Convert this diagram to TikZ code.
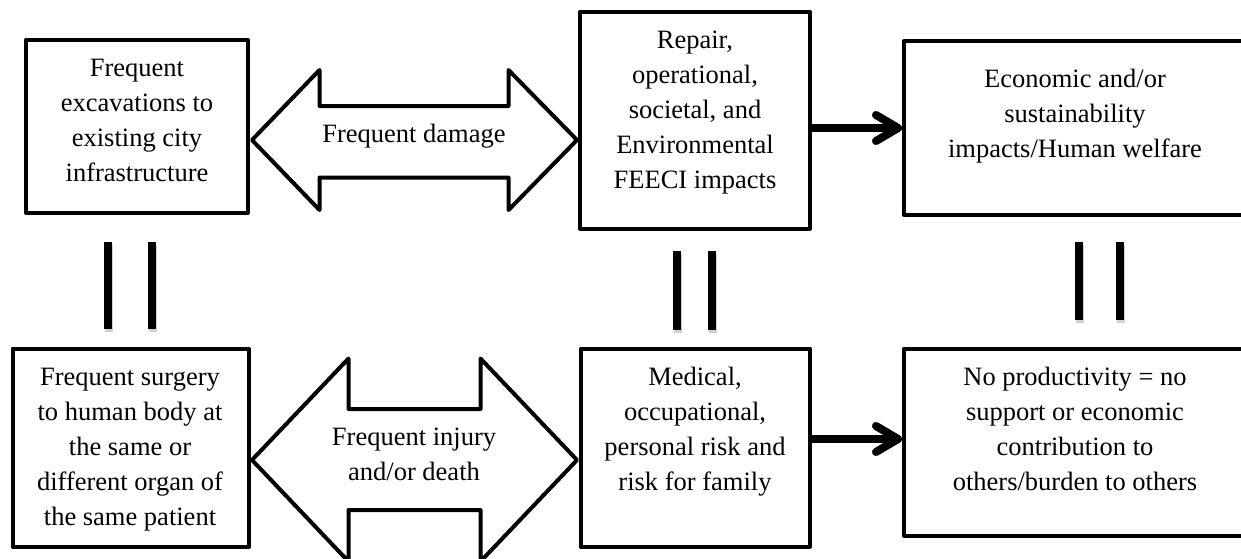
\documentclass[tikz,border=0pt]{standalone}
\usepackage{fontspec}
\setmainfont{Liberation Serif}
\usetikzlibrary{arrows.meta,calc}
\begin{document}
\begin{tikzpicture}[x=1pt,y=-1pt,
  box/.style={draw,line width=4pt,rectangle,inner sep=0pt,line join=round},
  txt/.style={inner sep=0pt,align=center,anchor=base,font=\fontsize{26.5pt}{35pt}\selectfont},
  dbl/.style={draw,line width=4pt,line join=round,fill=white},
  eqbar/.style={line width=8pt},
  shad/.style={draw=black!18,shift={(1pt,-3pt)}},
  conn/.style={line width=8pt,-{Straight Barb[length=22pt,width=26pt,round]}}]
\useasboundingbox (0,0) rectangle (1241,558);
\clip (0,0) rectangle (1241,558);
% boxes
\node[box,minimum width=221.5pt,minimum height=173pt] (tl) at (136.75,126) {};
\node[box,minimum width=230pt,minimum height=217pt] (tm) at (695,120) {};
\node[box,minimum width=346pt,minimum height=174pt] (tr) at (1077,128) {};
\node[box,minimum width=236pt,minimum height=198pt] (bl) at (130.5,447.5) {};
\node[box,minimum width=229.5pt,minimum height=198pt] (bm) at (695.25,447.5) {};
\node[box,minimum width=346pt,minimum height=187pt] (br) at (1077,442) {};
% texts (anchor = baseline of last line)
\node[txt] (tlt) at (137,181.5) {Frequent\\excavations to\\existing city\\infrastructure};
\node[txt] (tmt) at (695,188) {Repair,\\operational,\\societal, and\\Environmental\\FEECI impacts};
\node[txt] (trt) at (1075,157) {Economic and/or\\sustainability\\impacts/Human welfare};
\node[txt] (blt) at (130,525.5) {Frequent surgery\\to human body at\\the same or\\different organ of\\the same patient};
\node[txt] (bmt) at (695,490) {Medical,\\occupational,\\personal risk and\\risk for family};
\node[txt] (brt) at (1075,490) {No productivity = no\\support or economic\\contribution to\\others/burden to others};
% double arrows
\draw[dbl] (252,140) -- (319.5,70) -- (319.5,106) -- (508.5,106) -- (508.5,70) -- (577,140)
  -- (508.5,210) -- (508.5,177.5) -- (319.5,177.5) -- (319.5,210) -- cycle;
\node[txt] (dmg) at (414,142) {Frequent damage};
\draw[dbl] (252,460) -- (348.5,358.5) -- (348.5,409) -- (480.5,409) -- (480.5,358.5) -- (577,460)
  -- (480.5,561.5) -- (480.5,510) -- (348.5,510) -- (348.5,561.5) -- cycle;
\node[txt] (inj) at (414,480) {Frequent injury\\and/or death};
% equals bars (with faint shadow)
\foreach \x/\a/\b in {108/242/329,152/242/329,677/251/330,712/251/330,1079/242/320,1120/242/320}{
  \draw[eqbar,shad] (\x,\a) -- (\x,\b);
  \draw[eqbar] (\x,\a) -- (\x,\b);
}
% connectors
\coordinate (tre) at (tr.west);
\coordinate (bre) at ($(br.west)+(0,-3)$);
\draw[conn,shad] (tm.east |- tre) -- (tre);
\draw[conn,shad] (bm.east |- bre) -- (bre);
\draw[conn] (tm.east |- tre) -- (tre);
\draw[conn] (bm.east |- bre) -- (bre);
\end{tikzpicture}
\end{document}
